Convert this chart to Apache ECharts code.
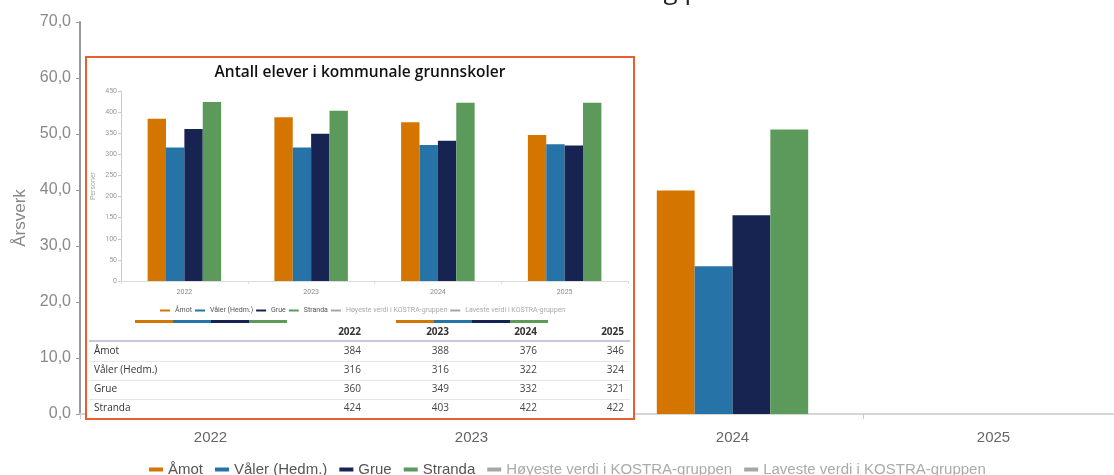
<!DOCTYPE html>
<html>
<head>
<meta charset="utf-8">
<script src="https://cdn.jsdelivr.net/npm/echarts@6/dist/echarts.min.js"></script>
<style>
  html, body { margin: 0; padding: 0; background: #fff; }
  #chart { width: 1114px; height: 475px; }
</style>
</head>
<body>
<div id="chart"></div>
<script>
// Categories
const years = ['2022', '2023', '2024', '2025'];
const kommuner = ['Åmot', 'Våler (Hedm.)', 'Grue', 'Stranda'];
const kostraNames = ['Høyeste verdi i KOSTRA-gruppen', 'Laveste verdi i KOSTRA-gruppen'];
const colors = ['#D47500', '#2673A8', '#172452', '#5B9A5B'];
const kostraColor = '#A6A6A6';

// Årsverk (main chart)
const aarsverkAmot    = [null, null, 39.9, null];
const aarsverkValer   = [null, null, 26.4, null];
const aarsverkGrue    = [null, null, 35.5, null];
const aarsverkStranda = [null, null, 50.8, null];

// Antall elever i kommunale grunnskoler (inset chart + table)
const eleverAmot    = [384, 388, 376, 346];
const eleverValer   = [316, 316, 322, 324];
const eleverGrue    = [360, 349, 332, 321];
const eleverStranda = [424, 403, 422, 422];

const aarsverk = [aarsverkAmot, aarsverkValer, aarsverkGrue, aarsverkStranda];
const elever = [eleverAmot, eleverValer, eleverGrue, eleverStranda];

const main = "'Liberation Sans', Arial, sans-serif";
const sans = "'Open Sans', 'Noto Sans', sans-serif";
const small = "Roboto, 'Liberation Sans', sans-serif";

const chart = echarts.init(document.getElementById('chart'), null, { renderer: 'canvas' });

// Inset box and table layout
const box = { x: 86, y: 57, w: 548, h: 362 };
const colRight = [361, 449, 537, 624];
const headerY = 332;
const rowY = [351, 370, 389, 408];

const graphics = [];
// Main title (mostly above the visible area)
graphics.push({
  type: 'text', x: 587, y: 5, z: 5,
  style: { text: 'Årsverk til undervisning per elev', font: "26px " + sans, fill: '#222',
           textAlign: 'center', textVerticalAlign: 'bottom' }
});
// Inset frame
graphics.push({
  type: 'rect', z: 1,
  shape: { x: box.x, y: box.y, width: box.w, height: box.h },
  style: { fill: '#fff', stroke: '#E95E2E', lineWidth: 2 }
});
// Inset title
graphics.push({
  type: 'text', x: 360, y: 73, z: 5,
  style: { text: 'Antall elever i kommunale grunnskoler', font: "600 15.5px " + sans, fill: '#111',
           textAlign: 'center', textVerticalAlign: 'middle' }
});
// Colour stripes above the table
[[135, 287], [396, 548]].forEach(function (seg) {
  const w = (seg[1] - seg[0]) / colors.length;
  colors.forEach(function (c, i) {
    graphics.push({ type: 'rect', z: 5, shape: { x: seg[0] + i * w, y: 320, width: w, height: 3 }, style: { fill: c } });
  });
});
// Table header
years.forEach(function (y, j) {
  graphics.push({ type: 'text', x: colRight[j], y: headerY, z: 5,
    style: { text: y, font: "bold 10px " + sans, fill: '#333', textAlign: 'right', textVerticalAlign: 'middle' } });
});
graphics.push({ type: 'line', z: 5, shape: { x1: 89, y1: 341, x2: 630, y2: 341 }, style: { stroke: '#C5C9DE', lineWidth: 2 } });
// Table rows
kommuner.forEach(function (k, i) {
  graphics.push({ type: 'text', x: 94, y: rowY[i], z: 5,
    style: { text: k, font: "10px " + sans, fill: '#333', textAlign: 'left', textVerticalAlign: 'middle' } });
  elever[i].forEach(function (v, j) {
    graphics.push({ type: 'text', x: colRight[j], y: rowY[i], z: 5,
      style: { text: String(v), font: "10px " + sans, fill: '#444', textAlign: 'right', textVerticalAlign: 'middle' } });
  });
  if (i < kommuner.length - 1) {
    const ly = Math.round((rowY[i] + rowY[i + 1]) / 2) + 0.5;
    graphics.push({ type: 'line', z: 5, shape: { x1: 89, y1: ly, x2: 630, y2: ly }, style: { stroke: '#E6E6E6', lineWidth: 1 } });
  }
});

function legendData() {
  return kommuner.map(function (n) { return { name: n, textStyle: { color: '#555' } }; })
    .concat(kostraNames.map(function (n) { return { name: n, textStyle: { color: '#AAA' } }; }));
}

const series = [];
// Main bars
kommuner.forEach(function (k, i) {
  series.push({
    name: k, type: 'bar', xAxisIndex: 0, yAxisIndex: 0, data: aarsverk[i],
    itemStyle: { color: colors[i] }, barGap: '0%', barCategoryGap: '42%'
  });
});
// KOSTRA reference lines (no values in this period)
kostraNames.forEach(function (n) {
  series.push({ name: n, type: 'line', xAxisIndex: 0, yAxisIndex: 0, data: [null, null, null, null],
    itemStyle: { color: kostraColor }, lineStyle: { color: kostraColor } });
});
// Inset bars
kommuner.forEach(function (k, i) {
  series.push({
    name: k, type: 'bar', xAxisIndex: 1, yAxisIndex: 1, data: elever[i], z: 4,
    itemStyle: { color: colors[i] }, barGap: '0%', barCategoryGap: '42%'
  });
});

chart.setOption({
  animation: false,
  backgroundColor: '#fff',
  grid: [
    { left: 80, width: 1044, top: 22, bottom: 61, outerBoundsMode: 'none' },
    { left: 121, right: 486, top: 91, bottom: 194, outerBoundsMode: 'none' }
  ],
  xAxis: [
    {
      type: 'category', gridIndex: 0, data: years,
      axisLine: { lineStyle: { color: '#D6D6D6', width: 2 } },
      axisTick: { show: true, length: 5, lineStyle: { color: '#CCC' } },
      axisLabel: { fontSize: 15, color: '#666', margin: 16, fontFamily: main }
    },
    {
      type: 'category', gridIndex: 1, data: years, z: 3,
      axisLine: { lineStyle: { color: '#DDD', width: 1 } },
      axisTick: { show: true, length: 3, lineStyle: { color: '#DDD' } },
      axisLabel: { fontSize: 7, color: '#888', margin: 8, fontFamily: small }
    }
  ],
  yAxis: [
    {
      type: 'value', gridIndex: 0, min: 0, max: 70, interval: 10,
      name: 'Årsverk', nameLocation: 'middle', nameGap: 50, nameRotate: 90,
      nameTextStyle: { fontSize: 17, color: '#888', fontFamily: main },
      axisLine: { show: true, lineStyle: { color: '#999', width: 2 } },
      axisTick: { show: true, length: 4, lineStyle: { color: '#999' } },
      axisLabel: { fontSize: 16, color: '#888', margin: 9, fontFamily: main,
        formatter: function (v) { return v.toFixed(1).replace('.', ','); } },
      splitLine: { show: false }
    },
    {
      type: 'value', gridIndex: 1, min: 0, max: 450, interval: 50, z: 3,
      name: 'Personer', nameLocation: 'middle', nameGap: 24, nameRotate: 90,
      nameTextStyle: { fontSize: 7, color: '#AAA', fontFamily: small },
      axisLine: { show: true, lineStyle: { color: '#CCC', width: 1 } },
      axisTick: { show: true, length: 3, lineStyle: { color: '#CCC' } },
      axisLabel: { fontSize: 7, color: '#999', margin: 4, fontFamily: small },
      splitLine: { show: false }
    }
  ],
  legend: [
    {
      data: legendData(), left: 144, top: 457,
      icon: 'rect', itemWidth: 14, itemHeight: 4, itemGap: 12,
      textStyle: { fontSize: 15, fontFamily: main }
    },
    {
      data: legendData(), left: 155, top: 302,
      icon: 'rect', itemWidth: 10, itemHeight: 2, itemGap: 3,
      textStyle: { fontSize: 7, fontFamily: small }
    }
  ],
  graphic: graphics,
  series: series
});
</script>
</body>
</html>
